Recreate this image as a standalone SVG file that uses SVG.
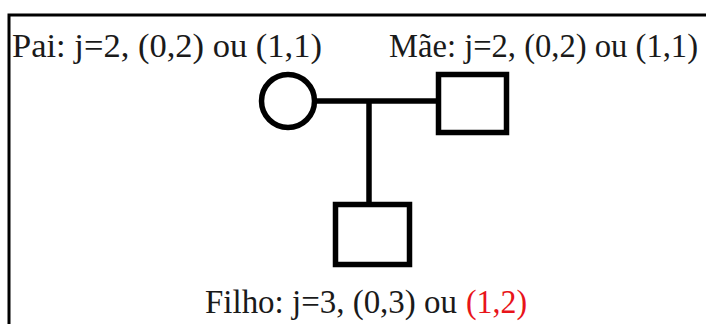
<svg xmlns="http://www.w3.org/2000/svg" width="706" height="324" viewBox="0 0 706 324">
  <style>
    .frame { stroke: #000; stroke-width: 3; fill: none; }
    .sym { stroke: #000; stroke-width: 5.5; fill: #fff; }
    .link { stroke: #000; stroke-width: 5.5; fill: none; }
    .lbl { font-family: "Liberation Serif", "Times New Roman", serif; font-size: 33px; fill: #1a1a1a; }
    .hl { fill: #e8141a; }
  </style>
  <rect width="706" height="324" fill="#fff"/>
  <!-- open frame: top and left edges only -->
  <path class="frame" d="M9,324 V15 H706"/>

  <g id="connectors">
    <line class="link" x1="312" y1="101" x2="440" y2="101"/>
    <line class="link" x1="369" y1="101" x2="369" y2="206"/>
  </g>

  <g id="pai">
    <circle class="sym" cx="288" cy="101" r="26.5"/>
    <text class="lbl" x="12" y="57" textLength="310" lengthAdjust="spacingAndGlyphs">Pai: j=2, (0,2) ou (1,1)</text>
  </g>

  <g id="mae">
    <rect class="sym" x="438.5" y="74.5" width="68" height="58"/>
    <text class="lbl" x="389" y="57" textLength="309" lengthAdjust="spacingAndGlyphs">Mãe: j=2, (0,2) ou (1,1)</text>
  </g>

  <g id="filho">
    <rect class="sym" x="335.5" y="204.5" width="74" height="60"/>
    <text class="lbl" x="205" y="313" textLength="252" lengthAdjust="spacingAndGlyphs">Filho: j=3, (0,3) ou</text>
    <text class="lbl hl" x="466" y="313" textLength="61" lengthAdjust="spacingAndGlyphs">(1,2)</text>
  </g>
</svg>
